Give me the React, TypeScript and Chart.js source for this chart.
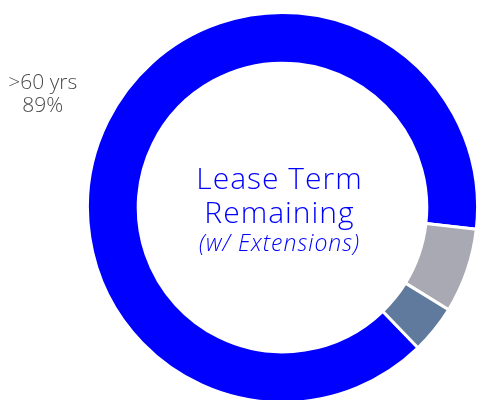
import React, { useEffect, useRef } from "react";
import { Chart, registerables } from "chart.js";

Chart.register(...registerables);

const categories = [">60 yrs", "40-60 yrs", "<40 yrs"];
const values = [89, 7, 4];
const colors = ["#0000FF", "#A9A9B4", "#5F7A9C"];
const centerLines = ["Lease Term", "Remaining"];
const centerSub = "(w/ Extensions)";

const labelPlugin = {
  id: "outerLabel",
  afterDatasetsDraw(chart: any) {
    const meta = chart.getDatasetMeta(0);
    const arc = meta.data[0] as any;
    if (!arc) return;
    const { x, y, startAngle, endAngle, outerRadius } = arc.getProps(
      ["x", "y", "startAngle", "endAngle", "outerRadius"],
      true
    );
    const mid = (startAngle + endAngle) / 2;
    const r = outerRadius + 70;
    const lx = x + Math.cos(mid) * r;
    const ly = y + Math.sin(mid) * r;
    const ctx = chart.ctx;
    ctx.save();
    ctx.fillStyle = "#4a4a4a";
    ctx.font = "300 21px 'Open Sans'";
    ctx.textAlign = "center";
    ctx.textBaseline = "alphabetic";
    ctx.fillText(categories[0], lx - 2, ly - 2);
    ctx.fillText(values[0] + "%", lx - 2, ly + 21);
    ctx.restore();
  },
};

const centerPlugin = {
  id: "centerText",
  afterDraw(chart: any) {
    const arc = chart.getDatasetMeta(0).data[0] as any;
    if (!arc) return;
    const { x, y } = arc.getProps(["x", "y"], true);
    const ctx = chart.ctx;
    const cx = x - 3;
    ctx.save();
    ctx.fillStyle = "#0000FF";
    ctx.textAlign = "center";
    ctx.textBaseline = "alphabetic";
    ctx.letterSpacing = "1px";
    ctx.font = "300 30px 'Open Sans'";
    ctx.fillText(centerLines[0], cx, y - 19);
    ctx.fillText(centerLines[1], cx, y + 15);
    ctx.font = "italic 300 23px 'Open Sans'";
    ctx.fillText(centerSub, cx, y + 43);
    ctx.restore();
  },
};

export default function App() {
  const ref = useRef<HTMLCanvasElement>(null);
  useEffect(() => {
    if (!ref.current) return;
    const chart = new Chart(ref.current, {
      type: "doughnut",
      data: {
        labels: categories,
        datasets: [
          {
            data: values,
            backgroundColor: colors,
            borderColor: "#ffffff",
            borderWidth: 3,
          },
        ],
      },
      options: {
        animation: false,
        responsive: false,
        rotation: 136,
        cutout: "74%",
        layout: { padding: { left: 86, right: 0, top: 11, bottom: 0 } },
        plugins: {
          legend: { display: false },
          tooltip: { enabled: false },
        },
      },
      plugins: [labelPlugin, centerPlugin],
    });
    return () => chart.destroy();
  }, []);
  return (
    <div
      style={{
        position: "absolute",
        left: 0,
        top: 0,
        width: 477,
        height: 400,
        overflow: "hidden",
      }}
    >
      <canvas ref={ref} width={479} height={404} />
    </div>
  );
}
